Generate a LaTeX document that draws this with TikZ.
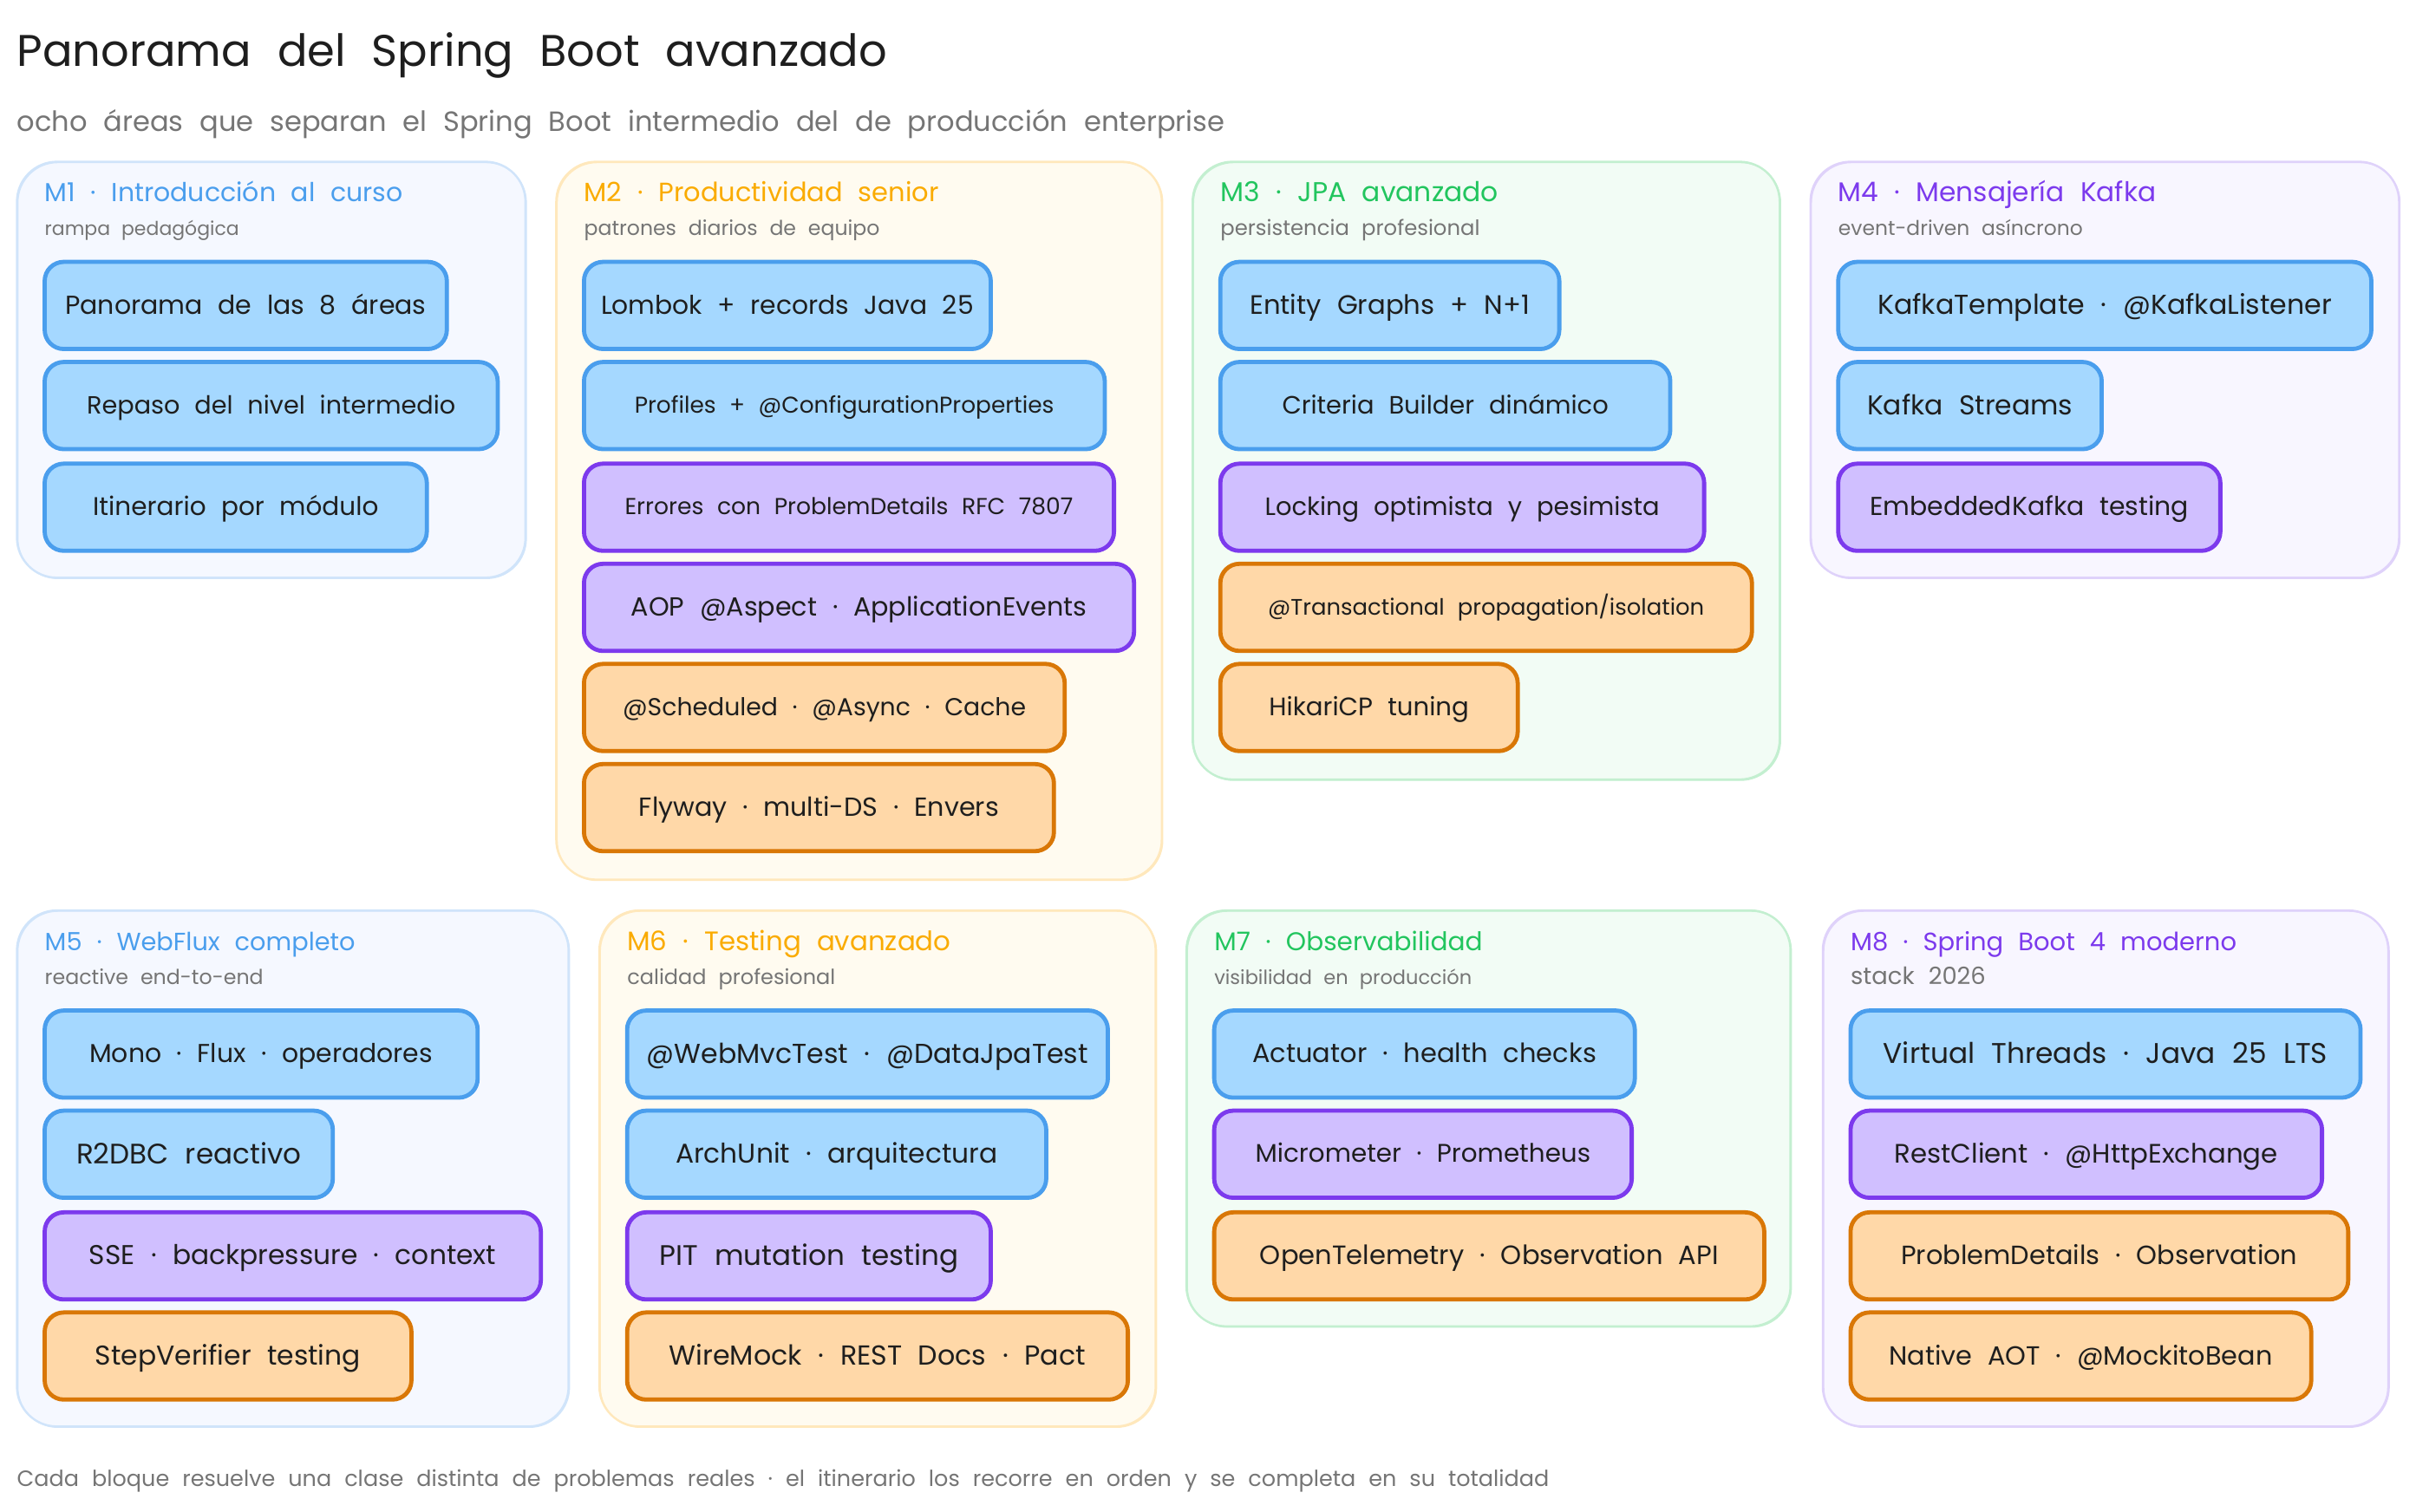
\documentclass[tikz,border=0pt]{standalone}
\usepackage{fontspec}
\setmainfont[WordSpace=2.2]{Poppins}
\usetikzlibrary{fit}
\definecolor{inkc}{HTML}{1E1E1E}
\definecolor{greyc}{HTML}{757575}
\definecolor{blues}{HTML}{4A9EED}
\definecolor{bluef}{HTML}{A5D8FF}
\definecolor{purps}{HTML}{7C3AED}
\definecolor{purpf}{HTML}{D0BFFF}
\definecolor{oras}{HTML}{D97706}
\definecolor{oraf}{HTML}{FFD8A8}
\definecolor{yelt}{HTML}{FAAB00}
\definecolor{grnt}{HTML}{22C55E}
\newcommand{\fsz}[1]{\fontsize{#1}{#1}\selectfont}
\tikzset{
  fs/.style={font=\fsz{#1}},
  wd/.style={minimum width=#1*1.7768pt},
  sketch/.style={postaction={draw=#1, line width=1.3pt, transform canvas={shift={(1.1pt,-1pt)}}}},
  panel/.style={draw, line width=2.4pt, rounded corners=46pt, inner sep=0pt, outer sep=0pt},
  panelb/.style={panel, draw=panelbs, fill=panelbf, sketch=panelbs},
  panely/.style={panel, draw=panelys, fill=panelyf, sketch=panelys},
  panelg/.style={panel, draw=panelgs, fill=panelgf, sketch=panelgs},
  panelp/.style={panel, draw=panelps, fill=panelpf, sketch=panelps},
  boxb/.style={draw, line width=4.8pt, rounded corners=22pt, inner sep=0pt, outer sep=0pt, anchor=north west, minimum height=100.5pt, text=inkc, execute at begin node={\vphantom{Ápg}}},
  itemb/.style={boxb, draw=blues, fill=bluef, sketch=blues},
  itemp/.style={boxb, draw=purps, fill=purpf, sketch=purps},
  itemo/.style={boxb, draw=oras, fill=oraf, sketch=oras},
  head/.style={anchor=base west, inner sep=0pt},
  sub/.style={anchor=base west, inner sep=0pt, text=greyc},
}
\definecolor{panelbs}{HTML}{D0E4FA}
\definecolor{panelbf}{HTML}{F5F8FF}
\definecolor{panelys}{HTML}{FFE8BC}
\definecolor{panelyf}{HTML}{FFFBF0}
\definecolor{panelgs}{HTML}{C3EFD0}
\definecolor{panelgf}{HTML}{F2FCF5}
\definecolor{panelps}{HTML}{DFD2FA}
\definecolor{panelpf}{HTML}{F8F6FF}
\begin{document}
\begin{tikzpicture}[x=1.7768pt, y=-1.7768pt]
  \useasboundingbox (0,0) rectangle (1568,981);
  % title and footer
  \node[anchor=base west, inner sep=0pt, text=inkc, fs=51.1] (title) at (11,43) {Panorama del Spring Boot avanzado};
  \node[anchor=base west, inner sep=0pt, text=greyc, fs=32.1] (subtitle) at (11,85) {ocho áreas que separan el Spring Boot intermedio del de producción enterprise};
  \node[anchor=base west, inner sep=0pt, text=greyc, fs=25.5] (footer) at (11,965) {Cada bloque resuelve una clase distinta de problemas reales · el itinerario los recorre en orden y se completa en su totalidad};

  % top row panels
  \node[panelb, fit={(11,105)(341,375)}] (m1) {};
  \node[panely, fit={(361,105)(754,571)}] (m2) {};
  \node[panelg, fit={(774,105)(1155,506)}] (m3) {};
  \node[panelp, fit={(1175,105)(1557,375)}] (m4) {};
  % bottom row panels
  \node[panelb, fit={(11,591)(369,926)}] (m5) {};
  \node[panely, fit={(389,591)(750,926)}] (m6) {};
  \node[panelg, fit={(770,591)(1162,861)}] (m7) {};
  \node[panelp, fit={(1183,591)(1550,926)}] (m8) {};

  % M1
  \node[head, text=blues, fs=30] (m1t) at (29,131) {M1 · Introducción al curso};
  \node[sub, fs=22] (m1s) at (29,153) {rampa pedagógica};
  \node[itemb, fs=30, wd=261] (m1a) at (29,170) {Panorama de las 8 áreas};
  \node[itemb, fs=28.7, wd=294] (m1b) at (29,235) {Repaso del nivel intermedio};
  \node[itemb, fs=29.5, wd=248] (m1c) at (29,301) {Itinerario por módulo};

  % M2
  \node[head, text=yelt, fs=30.5] (m2t) at (379,131) {M2 · Productividad senior};
  \node[sub, fs=23.6] (m2s) at (379,153) {patrones diarios de equipo};
  \node[itemb, fs=29.8, wd=264] (m2a) at (379,170) {Lombok + records Java 25};
  \node[itemb, fs=26.4, wd=338] (m2b) at (379,235) {Profiles + @ConfigurationProperties};
  \node[itemp, fs=26.6, wd=344] (m2c) at (379,301) {Errores con ProblemDetails RFC 7807};
  \node[itemp, fs=30.2, wd=357] (m2d) at (379,366) {AOP @Aspect · ApplicationEvents};
  \node[itemo, fs=28.3, wd=312] (m2e) at (379,431) {@Scheduled · @Async · Cache};
  \node[itemo, fs=30.2, wd=305] (m2f) at (379,496) {Flyway · multi-DS · Envers};

  % M3
  \node[head, text=grnt, fs=31.4] (m3t) at (792,131) {M3 · JPA avanzado};
  \node[sub, fs=24.3] (m3s) at (792,153) {persistencia profesional};
  \node[itemb, fs=30.7, wd=220] (m3a) at (792,170) {Entity Graphs + N+1};
  \node[itemb, fs=28.9, wd=292] (m3b) at (792,235) {Criteria Builder dinámico};
  \node[itemp, fs=28.9, wd=314] (m3c) at (792,301) {Locking optimista y pesimista};
  \node[itemo, fs=25.9, wd=345] (m3d) at (792,366) {@Transactional propagation/isolation};
  \node[itemo, fs=29.2, wd=193] (m3e) at (792,431) {HikariCP tuning};

  % M4
  \node[head, text=purps, fs=31.2] (m4t) at (1193,131) {M4 · Mensajería Kafka};
  \node[sub, fs=23.4] (m4s) at (1193,153) {event-driven asíncrono};
  \node[itemb, fs=31.6, wd=346] (m4a) at (1193,170) {KafkaTemplate · @KafkaListener};
  \node[itemb, fs=31.4, wd=171] (m4b) at (1193,235) {Kafka Streams};
  \node[itemp, fs=29.9, wd=248] (m4c) at (1193,301) {EmbeddedKafka testing};

  % M5
  \node[head, text=blues, fs=28.8] (m5t) at (29,617) {M5 · WebFlux completo};
  \node[sub, fs=23.7] (m5s) at (29,639) {reactive end-to-end};
  \node[itemb, fs=29.9, wd=281] (m5a) at (29,656) {Mono · Flux · operadores};
  \node[itemb, fs=32.6, wd=187] (m5b) at (29,721) {R2DBC reactivo};
  \node[itemp, fs=31.3, wd=322] (m5c) at (29,787) {SSE · backpressure · context};
  \node[itemo, fs=31.4, wd=238] (m5d) at (29,852) {StepVerifier testing};

  % M6
  \node[head, text=yelt, fs=30.9] (m6t) at (407,617) {M6 · Testing avanzado};
  \node[sub, fs=24] (m6s) at (407,639) {calidad profesional};
  \node[itemb, fs=31.6, wd=312] (m6a) at (407,656) {@WebMvcTest · @DataJpaTest};
  \node[itemb, fs=31.3, wd=272] (m6b) at (407,721) {ArchUnit · arquitectura};
  \node[itemp, fs=32.6, wd=236] (m6c) at (407,787) {PIT mutation testing};
  \node[itemo, fs=31.7, wd=325] (m6d) at (407,852) {WireMock · REST Docs · Pact};

  % M7
  \node[head, text=grnt, fs=29.6] (m7t) at (788,617) {M7 · Observabilidad};
  \node[sub, fs=22.5] (m7s) at (788,639) {visibilidad en producción};
  \node[itemb, fs=30.5, wd=273] (m7a) at (788,656) {Actuator · health checks};
  \node[itemp, fs=29.4, wd=271] (m7b) at (788,721) {Micrometer · Prometheus};
  \node[itemo, fs=30.6, wd=357] (m7c) at (788,787) {OpenTelemetry · Observation API};

  % M8
  \node[head, text=purps, fs=29] (m8t) at (1201,617) {M8 · Spring Boot 4 moderno};
  \node[sub, fs=27.4] (m8s) at (1201,639) {stack 2026};
  \node[itemb, fs=32.8, wd=331] (m8a) at (1201,656) {Virtual Threads · Java 25 LTS};
  \node[itemp, fs=30.8, wd=306] (m8b) at (1201,721) {RestClient · @HttpExchange};
  \node[itemo, fs=30.4, wd=323] (m8c) at (1201,787) {ProblemDetails · Observation};
  \node[itemo, fs=30.3, wd=299] (m8d) at (1201,852) {Native AOT · @MockitoBean};
\end{tikzpicture}
\end{document}
